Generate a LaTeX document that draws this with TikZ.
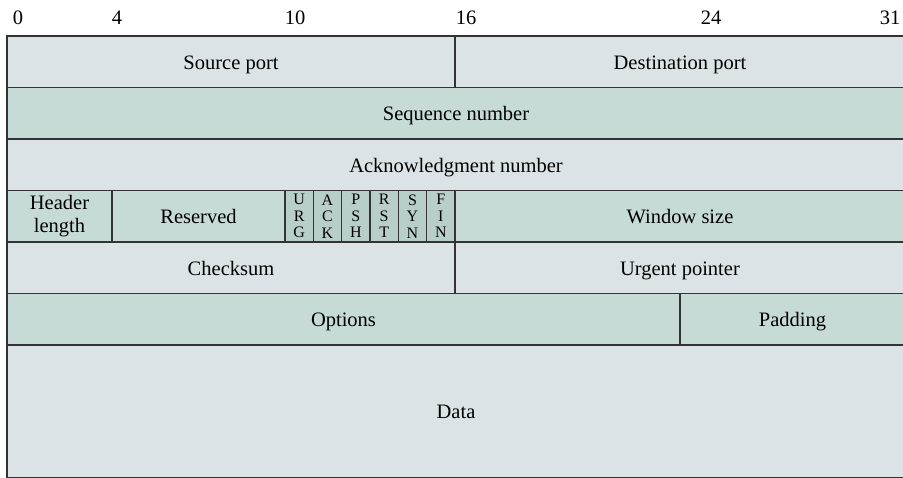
\documentclass[tikz,border=0pt]{standalone}
\usepackage{fontspec}
\setmainfont{Liberation Serif}
\definecolor{fieldgray}{HTML}{DCE3E6}
\definecolor{fieldteal}{HTML}{C6DAD6}
\definecolor{flagteal}{HTML}{B8CFC9}
\definecolor{rulegray}{HTML}{333333}
\tikzset{
  field/.style={draw=rulegray, line width=1.3pt, inner sep=0pt, outer sep=0pt,
    anchor=north west, align=center, font=\fontsize{20.5}{23}\selectfont},
  onefield/.style={field, text height=15.5pt, text depth=0.5pt},
  flagbox/.style={field, fill=flagteal, minimum width=28.33pt, minimum height=51.5pt,
    font=\fontsize{16}{16.5}\selectfont},
  bitlabel/.style={inner sep=0pt, font=\fontsize{20.5}{23}\selectfont}
}
\begin{document}
\begin{tikzpicture}[x=1pt, y=-1pt]
    \useasboundingbox (0,0) rectangle (903,478);
    \foreach \b/\x in {0/18, 4/117, 10/295, 16/466, 24/711, 31/890}
        \node[bitlabel] (bit\b) at (\x,18) {\b};
    \node[onefield, fill=fieldgray, minimum width=448pt, minimum height=51.5pt] (srcport) at (7,36) {Source port};
    \node[onefield, fill=fieldgray, minimum width=450pt, minimum height=51.5pt] (dstport) at (455,36) {Destination port};
    \node[onefield, fill=fieldteal, minimum width=898pt, minimum height=51.5pt] (seqnum) at (7,87.5) {Sequence number};
    \node[onefield, fill=fieldgray, minimum width=898pt, minimum height=51.5pt] (acknum) at (7,139) {Acknowledgment number};
    \node[field, fill=fieldteal, minimum width=105pt, minimum height=51.5pt] (hlen) at (7,190.5) {Header\\length};
    \node[onefield, fill=fieldteal, minimum width=173pt, minimum height=51.5pt] (reserved) at (112,190.5) {Reserved};
    \foreach \flag/\txt [count=\i from 0] in {urg/{U\\R\\G}, ack/{A\\C\\K}, psh/{P\\S\\H}, rst/{R\\S\\T}, syn/{S\\Y\\N}, fin/{F\\I\\N}}
        \node[flagbox] (\flag) at (285+28.33*\i,190.5) {\txt};
    \node[onefield, fill=fieldteal, minimum width=450pt, minimum height=51.5pt] (window) at (455,190.5) {Window size};
    \node[onefield, fill=fieldgray, minimum width=448pt, minimum height=51.5pt] (checksum) at (7,242) {Checksum};
    \node[onefield, fill=fieldgray, minimum width=450pt, minimum height=51.5pt] (urgptr) at (455,242) {Urgent pointer};
    \node[onefield, fill=fieldteal, minimum width=673pt, minimum height=51.5pt] (options) at (7,293.5) {Options};
    \node[onefield, fill=fieldteal, minimum width=225pt, minimum height=51.5pt] (padding) at (680,293.5) {Padding};
    \node[onefield, fill=fieldgray, minimum width=898pt, minimum height=133pt] (data) at (7,345) {Data};
\end{tikzpicture}
\end{document}
